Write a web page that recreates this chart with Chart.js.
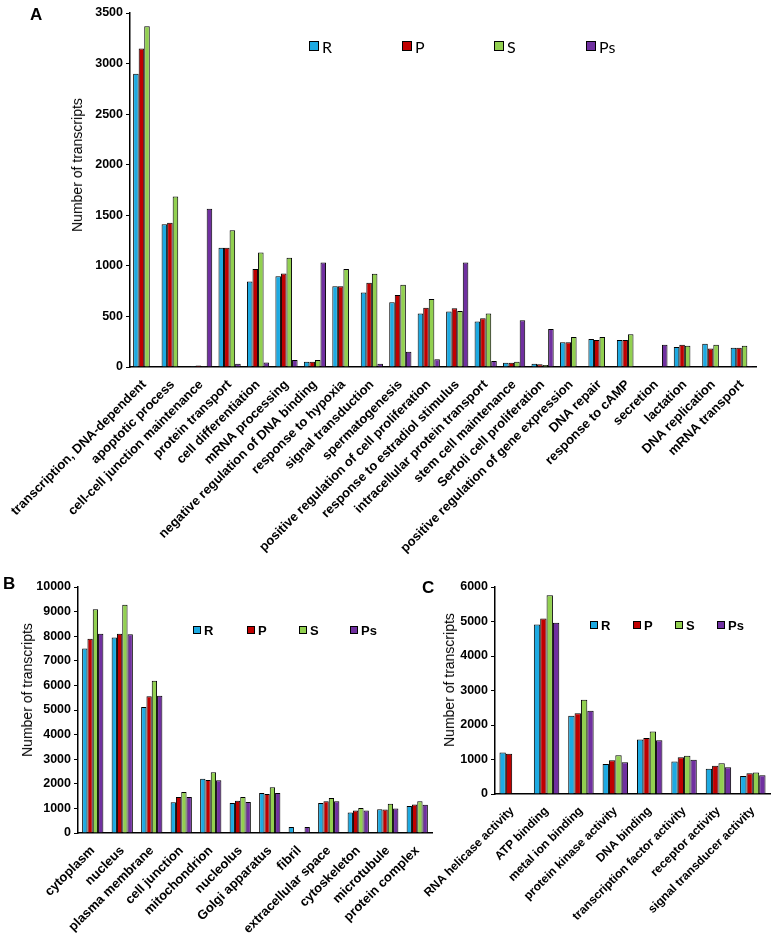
<!DOCTYPE html>
<html>
<head>
<meta charset="utf-8">
<script src="https://cdn.jsdelivr.net/npm/chart.js@4.4.1/dist/chart.umd.min.js"></script>
<style>
    body { margin: 0; background: #fff; }
    #wrap { position: relative; width: 773px; height: 939px; overflow: hidden; font-family: "Liberation Sans", Arial, sans-serif; }
    canvas { position: absolute; }
    .letter { position: absolute; font-weight: bold; font-size: 17px; color: #000; }
    .ytitle { position: absolute; font-size: 14px; color: #000; white-space: nowrap; transform: translate(-50%, -50%) rotate(-90deg); }
    .leg { position: absolute; display: flex; align-items: center; color: #000; white-space: nowrap; }
    .leg span.box { display: inline-block; border: 1px solid #000; box-sizing: border-box; }
</style>
</head>
<body>
<div id="wrap">
    <canvas id="chartA" width="773" height="580" style="left:0px;top:0px"></canvas>
    <canvas id="chartB" width="440" height="364" style="left:0px;top:575px"></canvas>
    <canvas id="chartC" width="368" height="364" style="left:405px;top:575px"></canvas>

    <div class="letter" style="left:30px;top:5px">A</div>
    <div class="letter" style="left:3px;top:574px">B</div>
    <div class="letter" style="left:422px;top:578px">C</div>

    <div class="ytitle" style="left:77px;top:165px">Number of transcripts</div>
    <div class="ytitle" style="left:27px;top:690px">Number of transcripts</div>
    <div class="ytitle" style="left:449px;top:680px">Number of transcripts</div>
</div>
<script>
// Series names and colours
const seriesNames = ["R", "P", "S", "Ps"];
const seriesColors = ["#1DAAE2", "#C00000", "#92D050", "#7030A0"];

// Panel A - biological process
const aLabels = ["transcription, DNA-dependent", "apoptotic process", "cell-cell junction maintenance",
    "protein transport", "cell differentiation", "mRNA processing", "negative regulation of DNA binding",
    "response to hypoxia", "signal transduction", "spermatogenesis", "positive regulation of cell proliferation",
    "response to estradiol stimulus", "intracellular protein transport", "stem cell maintenance",
    "Sertoli cell proliferation", "positive regulation of gene expression", "DNA repair", "response to cAMP",
    "secretion", "lactation", "DNA replication", "mRNA transport"];
const aR  = [2900, 1412, 8, 1178, 845, 898, 52, 799, 736, 640, 528, 548, 449, 43, 33, 244, 277, 267, 3, 198, 231, 191];
const aP  = [3150, 1426, 15, 1178, 970, 924, 52, 799, 832, 713, 587, 581, 482, 43, 26, 244, 267, 267, 3, 221, 182, 191];
const aS  = [3370, 1686, 8, 1353, 1132, 1080, 68, 970, 921, 812, 673, 554, 528, 53, 20, 297, 297, 323, 3, 211, 221, 211];
const aPs = [5, 5, 1564, 33, 45, 70, 1033, 5, 33, 152, 76, 1033, 59, 462, 376, 3, 5, 5, 221, 3, 5, 10];
const aTicks = [0, 500, 1000, 1500, 2000, 2500, 3000, 3500];

// Panel B - cellular component
const bLabels = ["cytoplasm", "nucleus", "plasma membrane", "cell junction", "mitochondrion", "nucleolus",
    "Golgi apparatus", "fibril", "extracellular space", "cytoskeleton", "microtubule", "protein complex"];
const bR  = [7500, 7950, 5120, 1250, 2210, 1220, 1630, 245, 1220, 830, 970, 1100];
const bP  = [7900, 8100, 5560, 1460, 2150, 1310, 1590, 10, 1290, 910, 960, 1160];
const bS  = [9100, 9280, 6190, 1670, 2470, 1460, 1860, 10, 1420, 1020, 1190, 1290];
const bPs = [8100, 8080, 5580, 1460, 2140, 1260, 1630, 245, 1290, 910, 1000, 1150];
const bTicks = [0, 1000, 2000, 3000, 4000, 5000, 6000, 7000, 8000, 9000, 10000];

// Panel C - molecular function
const cLabels = ["RNA helicase activity", "ATP binding", "metal ion binding", "protein kinase activity",
    "DNA binding", "transcription factor activity", "receptor activity", "signal transducer activity"];
const cR  = [1200, 4910, 2270, 870, 1580, 940, 730, 520];
const cP  = [1170, 5090, 2340, 980, 1620, 1065, 820, 600];
const cS  = [20, 5760, 2730, 1120, 1810, 1110, 890, 620];
const cPs = [15, 4965, 2410, 920, 1560, 990, 775, 540];
const cTicks = [0, 1000, 2000, 3000, 4000, 5000, 6000];

function makeBars(id, labels, values, ticks, cfg) {
    const ctx = document.getElementById(id).getContext("2d");
    const datasets = values.map((data, i) => ({
        label: seriesNames[i],
        data: data,
        backgroundColor: seriesColors[i],
        borderColor: "#000",
        borderWidth: 1,
        categoryPercentage: cfg.catPct,
        barPercentage: 1.0
    }));
    new Chart(ctx, {
        type: "bar",
        data: { labels: labels, datasets: datasets },
        options: {
            responsive: false,
            animation: false,
            devicePixelRatio: 1,
            layout: { padding: { left: 0, top: cfg.top, right: cfg.right, bottom: 0 } },
            plugins: { legend: { display: false }, tooltip: { enabled: false } },
            scales: {
                x: {
                    grid: { display: false },
                    border: { display: true, color: "#000", width: 1.5 },
                    ticks: {
                        autoSkip: false, minRotation: 45, maxRotation: 45, padding: 2,
                        color: "#000",
                        font: { family: "Liberation Sans", weight: "bold", size: cfg.labelSize }
                    },
                    afterFit: s => { s.height = cfg.xHeight; s.paddingLeft = 0; s.paddingRight = 0; }
                },
                y: {
                    min: 0,
                    max: ticks[ticks.length - 1],
                    afterBuildTicks: s => { s.ticks = ticks.map(v => ({ value: v })); },
                    grid: { drawOnChartArea: false, color: "#000", tickLength: 4 },
                    border: { display: true, color: "#000", width: 1.5 },
                    ticks: {
                        padding: 3, color: "#000",
                        callback: value => String(value),
                        font: { family: "Liberation Sans", weight: "bold", size: 12.5 }
                    },
                    afterFit: s => { s.width = cfg.yWidth; }
                }
            }
        }
    });
}

// legend drawn as html, one item per series
function makeLegend(xs, y, boxSize, font) {
    const wrap = document.getElementById("wrap");
    seriesNames.forEach((name, i) => {
        const item = document.createElement("div");
        item.className = "leg";
        item.style.left = xs[i] + "px";
        item.style.top = (y - 10) + "px";
        item.style.height = "20px";
        item.style.font = font;
        item.innerHTML = `<span class="box" style="width:${boxSize}px;height:${boxSize}px;background:${seriesColors[i]};margin-right:3px"></span>${name}`;
        wrap.appendChild(item);
    });
}

document.addEventListener("DOMContentLoaded", function () {
    makeBars("chartA", aLabels, [aR, aP, aS, aPs], aTicks,
        { top: 13, right: 17, xHeight: 580 - 367, yWidth: 130, catPct: 0.78, labelSize: 13 });
    makeBars("chartB", bLabels, [bR, bP, bS, bPs], bTicks,
        { top: 12, right: 8, xHeight: 939 - 833, yWidth: 78, catPct: 0.72, labelSize: 13 });
    makeBars("chartC", cLabels, [cR, cP, cS, cPs], cTicks,
        { top: 12, right: 3, xHeight: 939 - 794, yWidth: 90, catPct: 0.74, labelSize: 12 });

    makeLegend([309, 402, 494, 586], 46, 10, "16px Lato, sans-serif");
    makeLegend([193, 247, 299, 350], 630, 8, "bold 13px 'Liberation Sans', Arial, sans-serif");
    makeLegend([590, 633, 675, 717], 625, 8, "bold 13px 'Liberation Sans', Arial, sans-serif");
});
</script>
</body>
</html>
